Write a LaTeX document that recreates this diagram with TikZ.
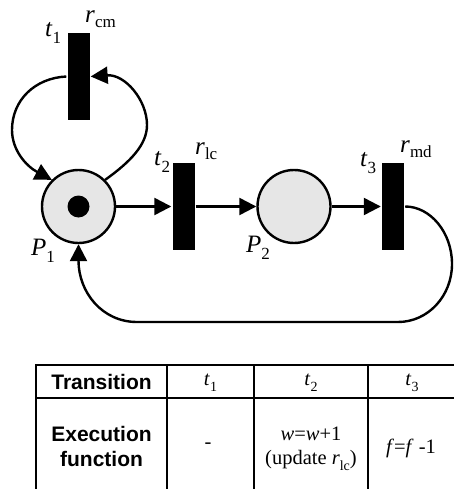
\documentclass[tikz,border=0pt]{standalone}
\usepackage{fontspec}
\setmainfont{Liberation Serif}
\setsansfont{Liberation Sans}
\usetikzlibrary{arrows.meta}
\definecolor{placegray}{RGB}{230,230,230}
\newcommand\lab[3][7]{\textit{#2}\raisebox{-#1pt}{\fontsize{17}{17}\selectfont #3}}
\newcommand\tlab[2]{\textit{#1}\raisebox{-6pt}{\fontsize{14}{14}\selectfont #2}}
\begin{document}
\begin{tikzpicture}[x=1pt,y=-1pt,line width=2.4pt,
  place/.style={circle,draw,fill=placegray,minimum size=73pt,inner sep=0pt,line width=2.4pt},
  token/.style={circle,fill=black,minimum size=22pt,inner sep=0pt},
  bar/.style={fill=black,minimum width=22pt,minimum height=87pt,inner sep=0pt},
  lbl/.style={anchor=base west,inner sep=0pt,font=\fontsize{25}{25}\selectfont},
  arc/.style={draw,line width=2.4pt,-{Triangle[length=17pt,width=17pt]}},
  head/.style={font=\sffamily\bfseries\fontsize{21}{25}\selectfont,align=center,inner sep=0pt},
  cell/.style={font=\fontsize{20.5}{24}\selectfont,align=center,inner sep=0pt}]
\useasboundingbox (0,0) rectangle (454,489);
\clip (0,0) rectangle (454,489);
% places and transitions
\node[place] (P1) at (78.5,206.5) {};
\node[token] (tok) at (P1) {};
\node[place] (P2) at (294,206.5) {};
\node[bar] (t1) at (78.5,76.5) {};
\node[bar] (t2) at (183.5,206.5) {};
\node[bar] (t3) at (393,206.5) {};
% labels
\node[lbl] (lt1) at (44,37) {\lab{t}{1}};
\node[lbl] (lr1) at (84,23) {\lab[5]{r}{cm}};
\node[lbl] (lt2) at (153,165) {\lab{t}{2}};
\node[lbl] (lr2) at (194,154) {\lab[5]{r}{lc}};
\node[lbl] (lt3) at (359,166) {\lab{t}{3}};
\node[lbl] (lr3) at (399,153) {\lab[5]{r}{md}};
\node[lbl] (lP1) at (30,255) {\lab{P}{1}};
\node[lbl] (lP2) at (245,252) {\lab{P}{2}};
% arcs
\draw[arc] (P1) -- (t2);
\draw[arc] (t2) -- (P2);
\draw[arc] (P2) -- (t3);
\draw[arc] (P1.45) .. controls (130,162) and (147,145) .. (147,125)
  .. controls (147,100) and (125,74) .. (t1.east);
\draw[arc] (t1.west) .. controls (35,78) and (12,100) .. (12,130)
  .. controls (12,150) and (26,166) .. (P1.135);
\coordinate (br) at (398,322);
\coordinate (bl) at (137,322);
\draw[arc] (t3.east) .. controls (430,206.5) and (452,232) .. (452,264)
  .. controls (452,296) and (428,322) .. (br) -- (bl)
  .. controls (102,322) and (78.5,292) .. (P1.south);
% table
\draw (36,489) -- (36,365) -- (460,365);
\draw (36,398) -- (460,398);
\draw (167,365) -- (167,489);
\draw (254,365) -- (254,489);
\draw (368,365) -- (368,489);
\node[head] (hT) at (101.5,382) {Transition};
\node[cell] (c1) at (210.5,383) {\tlab{t}{1}};
\node[cell] (c2) at (311,383) {\tlab{t}{2}};
\node[cell] (c3) at (412,383) {\tlab{t}{3}};
\node[head] (hE) at (101.5,446) {Execution\\function};
\node[cell] (d1) at (208,446) {-};
\node[cell] (d2) at (311,449) {\textit{w}=\textit{w}+1\\(update \tlab{r}{lc})};
\node[cell] (d3) at (411,448) {\textit{f}=\textit{f} -1};
\end{tikzpicture}
\end{document}
